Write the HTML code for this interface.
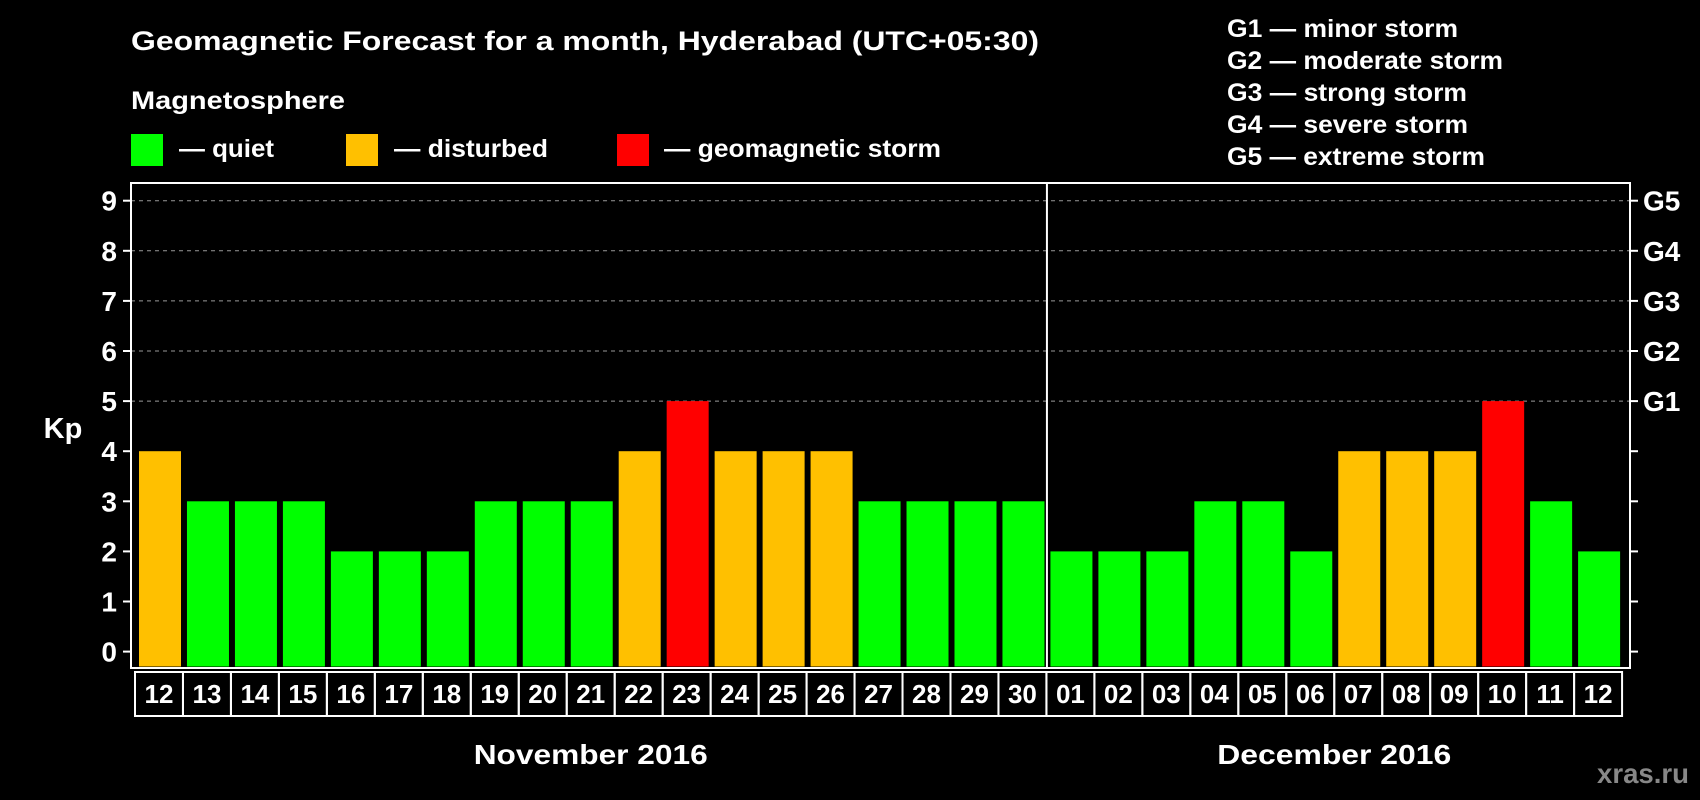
<!DOCTYPE html>
<html><head><meta charset="utf-8">
<style>
html,body{margin:0;padding:0;background:#000;}
svg{display:block;font-family:"Liberation Sans",Arial,sans-serif;font-weight:bold;}
</style></head>
<body>
<svg id="chart" width="1700" height="800" viewBox="0 0 1700 800" xmlns="http://www.w3.org/2000/svg">
  <rect x="0" y="0" width="1700" height="800" fill="#000"/>
  <text x="131" y="50" fill="#fff" font-size="27" textLength="908" lengthAdjust="spacingAndGlyphs">Geomagnetic Forecast for a month, Hyderabad (UTC+05:30)</text>
  <text x="131" y="109" fill="#fff" font-size="25" textLength="214" lengthAdjust="spacingAndGlyphs">Magnetosphere</text>
  <g>
    <rect x="131" y="134" width="32" height="32" fill="#00ff00"/>
    <text x="179" y="157" fill="#fff" font-size="25" textLength="95" lengthAdjust="spacingAndGlyphs">— quiet</text>
  </g>
  <g>
    <rect x="346" y="134" width="32" height="32" fill="#ffc000"/>
    <text x="394" y="157" fill="#fff" font-size="25" textLength="154" lengthAdjust="spacingAndGlyphs">— disturbed</text>
  </g>
  <g>
    <rect x="617" y="134" width="32" height="32" fill="#ff0000"/>
    <text x="664" y="157" fill="#fff" font-size="25" textLength="277" lengthAdjust="spacingAndGlyphs">— geomagnetic storm</text>
  </g>
  <g font-size="25" fill="#fff">
    <text x="1227" y="37" textLength="231" lengthAdjust="spacingAndGlyphs">G1 — minor storm</text>
    <text x="1227" y="69" textLength="276" lengthAdjust="spacingAndGlyphs">G2 — moderate storm</text>
    <text x="1227" y="101" textLength="240" lengthAdjust="spacingAndGlyphs">G3 — strong storm</text>
    <text x="1227" y="133" textLength="241" lengthAdjust="spacingAndGlyphs">G4 — severe storm</text>
    <text x="1227" y="165" textLength="258" lengthAdjust="spacingAndGlyphs">G5 — extreme storm</text>
  </g>
  <text x="63" y="438" fill="#fff" font-size="29" text-anchor="middle">Kp</text>
  <text x="1597" y="783" fill="#888" font-size="28" textLength="92" lengthAdjust="spacingAndGlyphs">xras.ru</text>
  <g id="grid"></g>
  <g id="bars"></g>
  <g id="axes"></g>
</svg>
<script>
const days = ["12","13","14","15","16","17","18","19","20","21","22","23","24","25","26","27","28","29","30","01","02","03","04","05","06","07","08","09","10","11","12"];
const kp = [4,3,3,3,2,2,2,3,3,3,4,5,4,4,4,3,3,3,3,2,2,2,3,3,2,4,4,4,5,3,2];
const yTicks = [0,1,2,3,4,5,6,7,8,9];
const gLabels = ["G1","G2","G3","G4","G5"];
const gLevels = [5,6,7,8,9];
const months = ["November 2016","December 2016"];
const monthStart = [0,19];

const NS="http://www.w3.org/2000/svg";
const plotL=131, plotR=1630, plotT=183, plotB=668;
const y0=651.6, unit=50.1;
const x0=139, pitch=47.97, bw=42;
function yScale(v){return y0-v*unit;}
function xScale(i){return x0+i*pitch;}
function mk(tag,attrs,parent){const e=document.createElementNS(NS,tag);for(const k in attrs)e.setAttribute(k,attrs[k]);parent.appendChild(e);return e;}
function color(v){return v>=5?"#ff0000":(v>=4?"#ffc000":"#00ff00");}

const grid=document.getElementById('grid');
const bars=document.getElementById('bars');
const axes=document.getElementById('axes');

gLevels.forEach((lv,i)=>{
  const l=mk('line',{x1:plotL,x2:plotR,y1:yScale(lv),y2:yScale(lv),stroke:'#999','stroke-width':1,'stroke-dasharray':'4,4'},grid);
  
  
  const t=mk('text',{x:1643,y:yScale(lv)+10,fill:'#fff','font-size':28},axes);
  t.textContent=gLabels[i];
  
  
});

kp.forEach((v,i)=>{
  const r=mk('rect',{x:xScale(i),y:yScale(v),width:bw,height:plotB-1.5-yScale(v),fill:color(v)},bars);
  
  
});

const fr=mk('rect',{x:plotL,y:plotT,width:plotR-plotL,height:plotB-plotT,fill:'none',stroke:'#fff','stroke-width':2},axes);


const dv=mk('line',{x1:xScale(19)-3.5,x2:xScale(19)-3.5,y1:plotT,y2:plotB,stroke:'#fff','stroke-width':2},axes);



yTicks.forEach(v=>{
  const y=yScale(v);
  mk('line',{x1:plotL-8,x2:plotL,y1:y,y2:y,stroke:'#fff','stroke-width':2},axes);
  mk('line',{x1:plotR,x2:plotR+8,y1:y,y2:y,stroke:'#fff','stroke-width':2},axes);
  const t=mk('text',{x:117,y:y+10,fill:'#fff','font-size':28,'text-anchor':'end'},axes);
  t.textContent=v;
  
  
});

days.forEach((d,i)=>{
  const bx=xScale(i)-4;
  const b=mk('rect',{x:bx,y:672,width:pitch,height:44,fill:'none',stroke:'#fff','stroke-width':2},axes);
  
  
  const t=mk('text',{x:bx+pitch/2,y:703,fill:'#fff','font-size':26,'text-anchor':'middle'},axes);
  t.textContent=d;
  
  
});

months.forEach((m,k)=>{
  const s=monthStart[k], e=(k+1<monthStart.length?monthStart[k+1]:days.length);
  const cx=(xScale(s)-4+xScale(e)-4)/2;
  const t=mk('text',{x:cx,y:764,fill:'#fff','font-size':28,'text-anchor':'middle',textLength:234,lengthAdjust:'spacingAndGlyphs'},axes);
  t.textContent=m;
  
  
});
</script>
</body></html>
